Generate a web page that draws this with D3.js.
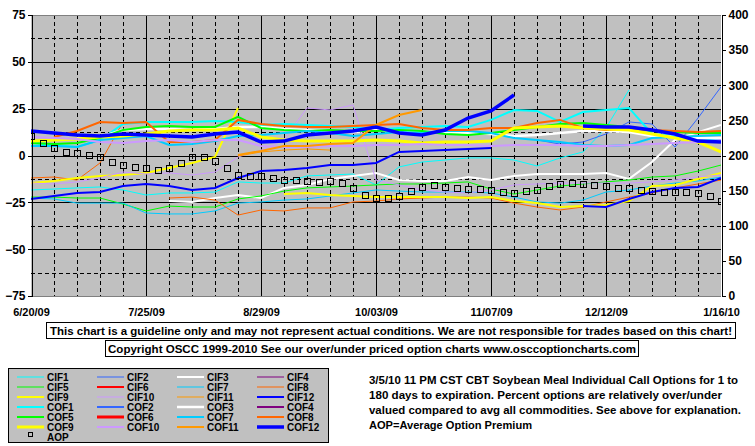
<!DOCTYPE html>
<html><head><meta charset="utf-8">
<script src="https://cdn.jsdelivr.net/npm/d3@7/dist/d3.min.js"></script>
<style>
html,body{margin:0;padding:0;background:#fff;}
svg{display:block;font-family:"Liberation Sans",Arial,sans-serif;font-weight:bold;}
</style></head><body>
<svg id="c" width="755" height="446"></svg>
<script>
// ---------------- DATA ----------------
const startDate = new Date(2009, 5, 20);
const endDate = new Date(2010, 0, 16);
const dateTickLabels = ["6/20/09","7/25/09","8/29/09","10/03/09","11/07/09","12/12/09","1/16/10"];
const leftTicks = [75, 50, 25, 0, -25, -50, -75];
const rightTicks = [400, 350, 300, 250, 200, 150, 100, 50, 0];

// weekly values (percent over/under), one per week from 6/20/09
const CIF1 = [-18.4,-17.9,-17.3,-16.8,-18.4,-21.1,-20.0,-20.0,-19.5,-14.1,-14.7,-14.7,-10.9,-10.4,-9.9,-15.7,-6.1,-3.5,-2.4,-1.3,-1.3,-2.4,-5.6,-1.3,1.9,14.7,35.0,null,null,null,null];
const CIF2 = [null,null,null,null,null,null,null,null,null,null,null,null,null,null,null,null,null,null,null,null,null,null,8.3,6.1,7.2,11.5,17.9,16.8,4.5,20.0,36.6];
const CIF3 = [null,null,null,null,null,null,-24.3,-24.8,-22.7,-21.1,-22.7,-17.3,-15.7,-12.5,-10.9,-9.3,-13.1,-13.6,-13.6,-11.5,-13.1,-10.9,-9.9,-9.9,-9.9,-9.3,-12.5,-3.5,8.3,12.5,16.3];
const CIF4 = [];
const CIF5 = [-22.2,-22.2,-22.7,-22.7,-25.9,-29.6,-27.0,-27.5,-27.5,-23.2,-21.6,-19.0,-17.3,-16.8,-16.3,-15.7,-15.2,-15.2,-14.7,-14.1,-17.9,-20.6,-18.4,-16.3,-15.2,-14.1,-13.1,-11.5,-10.9,-8.3,-5.1];
const CIF6 = [];
const CIF7 = [-22.7,-23.2,-25.4,-25.4,-25.4,-30.7,-31.2,-31.2,-29.6,-25.4,-24.8,-23.8,-23.2,-21.6,-20.0,-18.4,-19.0,-19.5,-19.5,-19.5,-20.0,-22.2,-24.8,-25.4,-23.8,-19.5,-18.4,-16.3,-14.7,-13.6,-11.5];
const CIF8 = [-12.0,-11.5,-13.1,-4.0,17.9,null,-22.7,-22.2,-23.8,-31.8,-29.1,-29.6,-28.0,-28.0,-24.8,-24.3,-23.2,-22.7,-22.2,-22.2,-22.7,-25.4,-27.5,-29.1,-27.5,-24.8,-22.2,-20.0,-17.3,-15.2,-13.1];
const CIF9 = [-14.7,-13.6,-12.0,-10.9,-10.4,-9.3,-6.7,-4.0,-0.8,25.4,null,-20.6,-20.0,-21.1,-21.6,-22.2,-22.2,-22.2,-22.2,-22.7,-22.2,-24.3,-25.4,-27.5,-27.0,-26.4,-24.3,-16.3,-15.7,-12.5,-9.3];
const CIF10 = [-14.7,-15.2,-14.1,-12.0,-8.8,-9.9,-9.3,-10.4,-8.8,-0.8,2.9,8.3,25.4,24.3,27.0,-13.1,-15.7,-18.4,-19.5,-20.0,-18.4,-15.7,-15.2,-14.7,-14.7,-14.7,-14.7,-14.1,-13.1,-11.5,-10.4];
const CIF11 = [null,null,null,null,null,null,null,null,null,-0.3,1.9,2.9,3.5,2.9,null,null,null,null,null,null,null,null,null,null,null,null,null,null,null,null,null];
const CIF12 = [-23.2,-21.6,-20.0,-19.5,-16.3,-15.2,-16.3,-18.4,-17.3,-12.0,-8.3,-7.7,-6.7,-5.1,-5.1,-4.0,1.9,2.4,2.9,3.5,4.0,null,null,null,-27.0,-27.5,-23.2,-19.5,-17.3,-16.8,-12.0];
const COF1 = [6.7,5.6,4.5,8.3,16.8,17.9,17.9,17.9,18.4,17.9,16.3,16.8,16.3,15.7,15.2,13.6,14.7,15.2,15.7,15.2,19.0,24.3,23.8,17.9,23.2,24.3,25.4,11.5,10.4,9.3,8.3];
const COF2 = [];
const COF3 = [null,null,9.3,9.9,13.6,14.1,14.1,13.6,14.1,15.2,15.2,14.1,13.6,13.1,12.5,13.6,12.5,12.0,12.5,12.0,11.5,10.4,10.9,12.0,13.1,13.1,12.5,10.4,9.9,9.3,9.3];
const COF4 = [];
const COF5 = [6.7,6.1,6.7,9.3,13.6,15.2,15.7,15.2,15.2,20.6,14.7,13.6,13.1,13.6,13.1,13.1,13.6,13.1,11.5,10.9,12.0,13.6,15.2,16.8,17.3,16.3,15.2,13.1,12.5,12.0,12.0];
const COF6 = [];
const COF7 = [5.1,5.1,4.5,8.3,9.3,10.4,5.6,6.1,7.7,10.4,10.9,12.0,13.1,12.0,10.4,11.5,12.5,12.0,13.1,13.1,12.0,9.3,8.3,7.2,5.6,5.1,5.6,9.3,9.9,10.4,10.9];
const COF8 = [null,9.9,13.1,17.9,17.3,17.9,7.2,7.2,8.3,19.0,16.8,15.7,15.2,15.2,15.7,16.3,16.8,14.7,13.6,13.6,14.7,14.7,17.3,19.0,14.7,13.6,14.1,13.6,13.1,12.5,13.1];
const COF9 = [7.7,8.3,8.8,9.9,10.4,11.5,13.1,13.6,13.6,14.7,9.9,8.3,7.7,7.7,7.7,8.3,7.7,6.7,7.2,7.2,7.7,14.7,15.2,15.7,14.7,14.1,13.6,11.5,9.3,7.2,1.9];
const COF10 = [9.9,9.3,8.8,7.2,6.7,7.7,8.3,7.2,8.3,8.3,5.1,4.5,4.5,5.1,5.1,5.6,5.6,6.1,5.6,5.6,5.1,5.6,5.6,5.6,5.1,5.1,5.6,6.1,6.7,7.2,8.3];
const COF11 = [null,null,null,null,null,null,null,null,null,0.3,2.4,5.1,5.1,6.1,6.7,16.3,21.6,24.3,null,null,null,null,null,null,null,null,null,null,null,null,null];
const COF12 = [13.1,12.0,10.9,10.4,11.5,10.9,10.4,9.9,11.5,12.5,7.2,7.7,10.9,12.0,13.1,15.2,12.0,10.9,13.6,20.0,23.8,32.3,null,null,15.7,15.2,15.2,13.6,11.5,7.7,7.2];

// Average option premium (right axis), twice a week from 6/20/09
const AOP = [228,218,211,205,204,201,198,191,187,184,182,179,182,189,198,198,192,182,172,171,171,168,165,165,164,162,164,161,154,144,140,140,142,150,155,158,155,154,152,152,151,148,147,150,151,157,159,161,159,158,157,154,154,151,150,148,148,148,147,142,135];

const seriesNames = ["CIF1","CIF2","CIF3","CIF4","CIF5","CIF6","CIF7","CIF8","CIF9","CIF10","CIF11","CIF12",
                     "COF1","COF2","COF3","COF4","COF5","COF6","COF7","COF8","COF9","COF10","COF11","COF12"];
const seriesValues = [CIF1,CIF2,CIF3,CIF4,CIF5,CIF6,CIF7,CIF8,CIF9,CIF10,CIF11,CIF12,
                      COF1,COF2,COF3,COF4,COF5,COF6,COF7,COF8,COF9,COF10,COF11,COF12];

const disclaimer = "This chart is a guideline only and may not represent actual conditions. We are not responsible for trades based on this chart!";
const copyright = "Copyright OSCC 1999-2010 See our over/under priced option charts www.osccoptioncharts.com";
const noteLines = ["3/5/10 11 PM CST CBT Soybean Meal Individual Call Options for 1 to",
                   "180 days to expiration. Percent options are relatively over/under",
                   "valued compared to avg all commodities. See above for explanation.",
                   "AOP=Average Option Premium"];

// ---------------- STYLES ----------------
const baseColors = ["#00FFFF","#3366FF","#FFFFFF","#800080","#00FF00","#FF0000","#00CCFF","#FF6600","#FFFF00","#CC99FF","#FF9900","#0000FF"];
const cifWidths  = [1,1,2,1,1,2,1,1,2,1,1,2];
const cofWidths  = [2,2,2.5,2,2,3,2,2,3,2,2,3.5];
function styleOf(k){ const b = k % 12; return {color: baseColors[b], width: k < 12 ? cifWidths[b] : cofWidths[b]}; }

// ---------------- LAYOUT ----------------
const svg = d3.select("#c");
const L = 31, R = 721, T = 15, B = 296;
const x = d3.scaleTime().domain([startDate, endDate]).range([L, R]);
const yL = d3.scaleLinear().domain([-75, 75]).range([B, T]);
const yR = d3.scaleLinear().domain([0, 400]).range([B, T]);
const weekDate = i => d3.timeDay.offset(startDate, 7 * i);
const aopDate = j => d3.timeHour.offset(startDate, 84 * j);

svg.append("rect").attr("x",0).attr("y",0).attr("width",755).attr("height",446).attr("fill","#fff");
svg.append("rect").attr("x",L).attr("y",T).attr("width",R-L).attr("height",B-T).attr("fill","#C0C0C0");

// grid
const grid = svg.append("g").attr("shape-rendering","crispEdges");
const weekTicks = d3.range(0, 31).map(weekDate);
weekTicks.forEach((d,i) => {
  const xx = Math.round(x(d)) + 0.5;
  if (i === 0 || i === 30) return;
  grid.append("line").attr("x1",xx).attr("x2",xx).attr("y1",T).attr("y2",B)
    .attr("stroke","#000").attr("stroke-width",1)
    .attr("stroke-dasharray", i % 5 === 0 ? null : "4,3");
});
d3.range(-62.5, 75, 12.5).forEach(v => {
  const yy = Math.round(yL(v)) + 0.5;
  const major = Math.abs(v % 25) < 1e-6;
  grid.append("line").attr("x1",L).attr("x2",R).attr("y1",yy).attr("y2",yy)
    .attr("stroke","#000").attr("stroke-width",1)
    .attr("stroke-dasharray", major ? null : "4,3");
});
// borders
grid.append("line").attr("x1",L).attr("x2",R).attr("y1",T+0.5).attr("y2",T+0.5).attr("stroke","#808080");
grid.append("line").attr("x1",L).attr("x2",R).attr("y1",B+0.5).attr("y2",B+0.5).attr("stroke","#808080");

// clip
svg.append("defs").append("clipPath").attr("id","pc").append("rect")
  .attr("x",L).attr("y",T).attr("width",R-L).attr("height",B-T);

const plot = svg.append("g").attr("clip-path","url(#pc)");
const line = d3.line().defined(d => d != null).x((d,i) => x(weekDate(i))).y(d => yL(d));
seriesValues.forEach((vals,k) => {
  if (!vals.length) return;
  const s = styleOf(k);
  plot.append("path").datum(vals).attr("d", line)
    .attr("fill","none").attr("stroke", s.color).attr("stroke-width", s.width)
    .attr("stroke-linejoin","miter").attr("stroke-linecap","butt");
});
plot.selectAll("rect.aop").data(AOP).enter().append("rect")
  .attr("x",(d,j) => Math.round(x(aopDate(j))) - 2.5)
  .attr("y",d => Math.round(yR(d)) - 2.5)
  .attr("width",6).attr("height",6)
  .attr("fill","none").attr("stroke","#000").attr("stroke-width",1);

// axes
const axL = svg.append("g").attr("transform",`translate(${L+0.5},0)`)
  .call(d3.axisLeft(yL).tickValues(leftTicks).tickSize(4).tickFormat(d3.format("d")));
const axR = svg.append("g").attr("transform",`translate(${R+0.5},0)`)
  .call(d3.axisRight(yR).tickValues(rightTicks).tickSize(4).tickFormat(d3.format("d")));
[axL, axR].forEach(a => {
  a.attr("shape-rendering","crispEdges");
  a.select(".domain").attr("stroke","#000");
  a.selectAll(".tick line").attr("stroke","#000");
  a.selectAll("text").attr("font-size",12).attr("font-weight","bold").attr("fill","#000")
    .attr("font-family","'Liberation Sans',Arial,sans-serif");
});
axL.selectAll("text").attr("x",-6);
axR.selectAll("text").attr("x",7);

const labelTicks = d3.range(0, 7).map(i => d3.timeDay.offset(startDate, 35 * i));
const axB = svg.append("g").attr("transform",`translate(0,${B})`)
  .call(d3.axisBottom(x).tickValues(labelTicks).tickSize(0).tickFormat((d,i) => dateTickLabels[i]));
axB.select(".domain").remove();
axB.selectAll("text").attr("font-size",11).attr("font-weight","bold").attr("fill","#000")
  .attr("font-family","'Liberation Sans',Arial,sans-serif").attr("y",12).attr("dy","0.71em");

// text boxes
function box(x0, y0, w, h, txt, tx, tw, fs) {
  svg.append("rect").attr("x",x0+0.5).attr("y",y0+0.5).attr("width",w).attr("height",h)
    .attr("fill","#fff").attr("stroke","#000").attr("shape-rendering","crispEdges");
  svg.append("text").attr("x",tx).attr("y",y0 + h/2 + 4.5).attr("font-size",fs)
    .attr("textLength",tw).attr("lengthAdjust","spacingAndGlyphs").text(txt);
}
box(46, 322, 689, 16, disclaimer, 50, 682, 11);
box(105, 340, 533, 16, copyright, 108, 528, 11);

// legend
const lg = svg.append("g");
lg.append("rect").attr("x",8.5).attr("y",368.5).attr("width",320).attr("height",74)
  .attr("fill","#C0C0C0").attr("stroke","#000").attr("stroke-width",1).attr("shape-rendering","crispEdges");
seriesNames.forEach((name,k) => {
  const col = k % 4, row = Math.floor(k / 4);
  const x0 = 17 + col * 80, yy = 377 + row * 10;
  const s = styleOf(k);
  lg.append("line").attr("x1",x0).attr("x2",x0+27).attr("y1",yy).attr("y2",yy)
    .attr("stroke",s.color).attr("stroke-width",s.width);
  lg.append("text").attr("x",x0+30).attr("y",yy+4).attr("font-size",10).text(name);
});
lg.append("rect").attr("x",28.5).attr("y",432.5).attr("width",4).attr("height",4)
  .attr("fill","none").attr("stroke","#000");
lg.append("text").attr("x",47).attr("y",441).attr("font-size",10).text("AOP");

// notes
const noteWidths = [369, 353, 372, 163];
noteLines.forEach((t,i) => {
  svg.append("text").attr("x",369).attr("y",384 + i*15).attr("font-size",11.2)
    .attr("textLength",noteWidths[i]).attr("lengthAdjust","spacingAndGlyphs").text(t);
});
</script>
</body></html>
